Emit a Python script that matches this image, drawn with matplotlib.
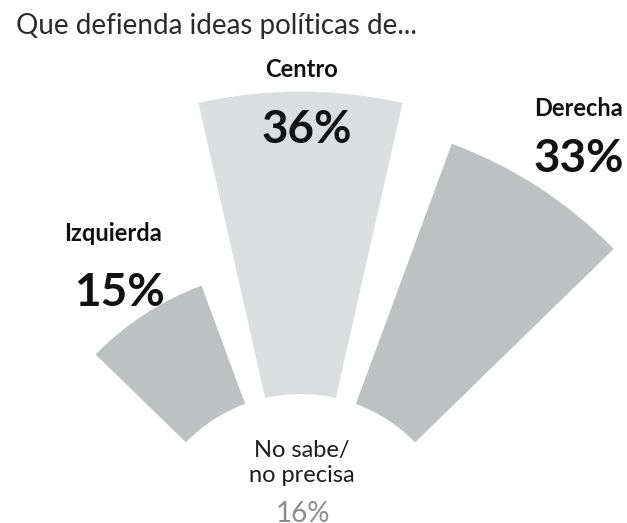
import numpy as np
import matplotlib
matplotlib.use("Agg")
import matplotlib.pyplot as plt

# data
categorias = ["Izquierda", "Centro", "Derecha"]
valores = [15, 36, 33]
etiquetas = ["15%", "36%", "33%"]
nosabe_label = "No sabe/\nno precisa"
nosabe_valor = "16%"
colores = ["#bfc0c2", "#dcdddf", "#bfc0c2"]

W, H = 627, 523
plt.rcParams['font.family'] = ['Lato', 'DejaVu Sans']

fig = plt.figure(figsize=(W / 100, H / 100), dpi=100)

# polar axes whose centre sits below the picture
cx, cy = 300.5, H - 554
R = 500
ax = fig.add_axes([(cx - R) / W, (cy - R) / H, 2 * R / W, 2 * R / H],
                  projection='polar')
ax.set_ylim(0, R)
ax.set_axis_off()

angulos = np.deg2rad([123, 90, 57])
ancho = np.deg2rad(25.5)
escala = 8.4  # px per percentage point
ax.bar(angulos, np.array(valores) * escala, width=ancho, bottom=160,
       color=colores, linewidth=0)


def txt(x, y, s, **kw):
    fig.text(x / W, 1 - y / H, s, ha='center', va='baseline', **kw)


fig.text(16 / W, 1 - 34 / H, "Que defienda ideas políticas de...",
         fontsize=20, color='#2a2a2a', va='baseline')

# category labels and values
pos_cat = [(113, 241), (302, 77), (579, 116)]
pos_val = [(119, 306), (307, 143), (579, 172)]
for (x, y), c in zip(pos_cat, categorias):
    txt(x, y, c, fontsize=17, fontweight='bold', color='#111111')
for (x, y), v in zip(pos_val, etiquetas):
    txt(x, y, v, fontsize=33, fontweight='bold', color='#111111')

lineas = nosabe_label.split("\n")
txt(302, 457, lineas[0], fontsize=17, color='#1e1e1e')
txt(302, 482, lineas[1], fontsize=17, color='#1e1e1e')
txt(303, 522, nosabe_valor, fontsize=20, color='#8c8c8c')

fig.savefig("out.png", dpi=100)
